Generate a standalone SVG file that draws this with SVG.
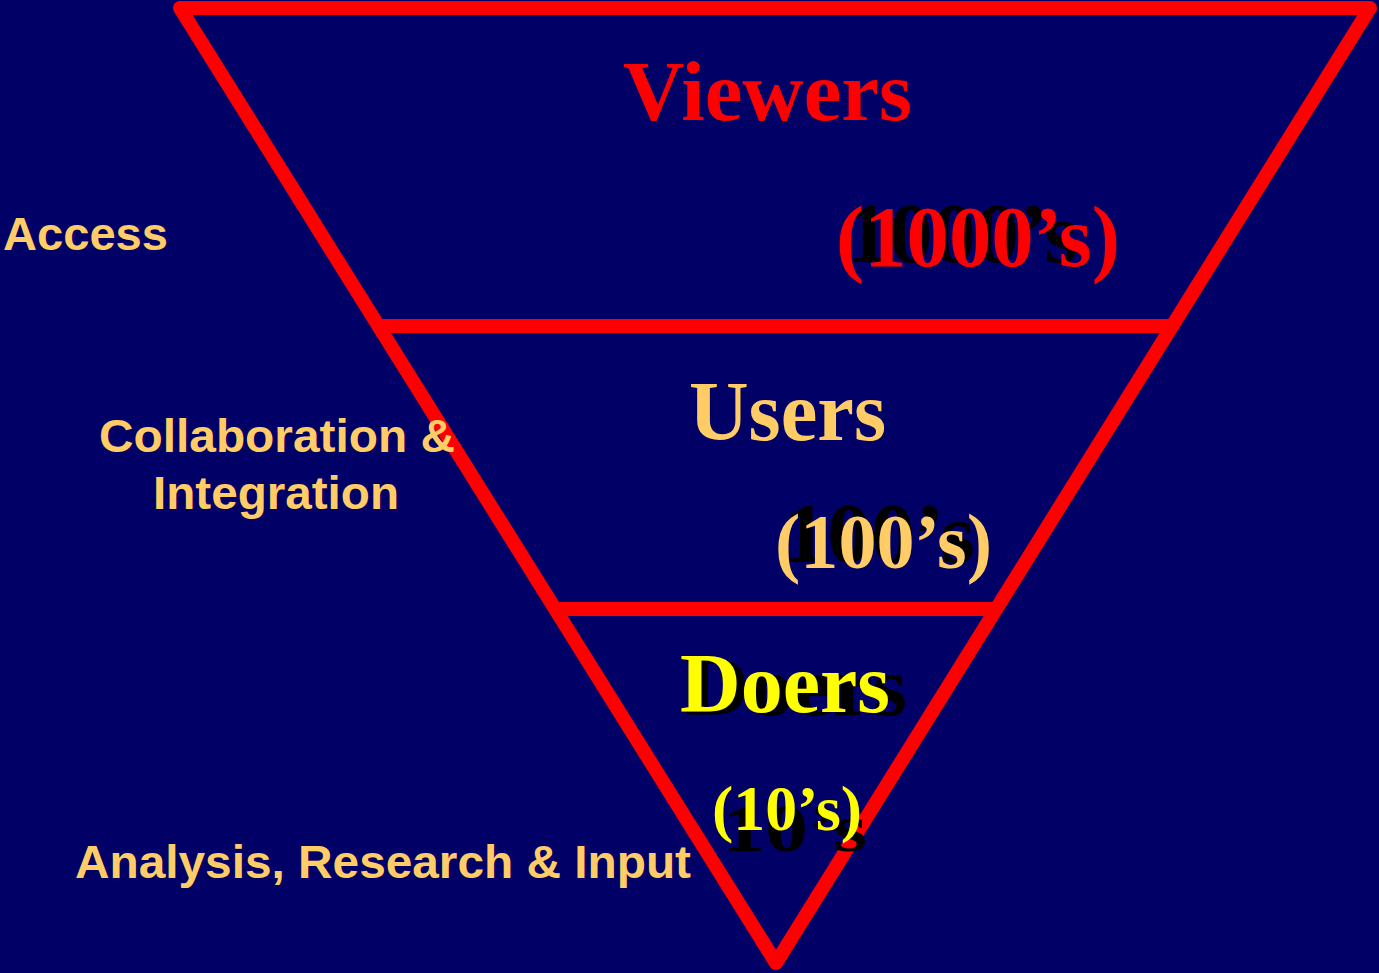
<svg xmlns="http://www.w3.org/2000/svg" width="1379" height="973" viewBox="0 0 1379 973">
<style>
.serif{font-family:"Liberation Serif","Times New Roman",serif;font-weight:bold}
.sans{font-family:"Liberation Sans",Arial,sans-serif;font-weight:bold;fill:#FFCC66;font-size:46px}
.edge{stroke:#FF0000;stroke-width:14;stroke-linecap:round;stroke-linejoin:round;fill:none}
.sh{fill:#000000}
</style>
<rect width="1379" height="973" fill="#000066"/>
<g id="connectors">
<polygon class="edge" points="180,8 1370,8 776,963"/>
<line class="edge" x1="380" y1="326" x2="1172" y2="326"/>
<line class="edge" x1="557" y1="609" x2="995" y2="609"/>
</g>
<g id="viewers">
<text class="serif" x="623" y="120" font-size="85" fill="#FF0000" textLength="289" lengthAdjust="spacingAndGlyphs">Viewers</text>
<text class="serif sh" x="846" y="262" font-size="85" textLength="232" lengthAdjust="spacingAndGlyphs">1000’s</text>
<text class="serif" x="836" y="266" font-size="86" fill="#FF0000" textLength="284" lengthAdjust="spacingAndGlyphs">(1000’s)</text>
</g>
<g id="users">
<text class="serif" x="689" y="440" font-size="84" fill="#FFCC66" textLength="197" lengthAdjust="spacingAndGlyphs">Users</text>
<text class="serif sh" x="783" y="562" font-size="84" textLength="192" lengthAdjust="spacingAndGlyphs">100’s</text>
<text class="serif" x="775" y="568" font-size="78" fill="#FFCC66" textLength="217" lengthAdjust="spacingAndGlyphs">(100’s)</text>
</g>
<g id="doers">
<text class="serif sh" x="685" y="715" font-size="84" textLength="222" lengthAdjust="spacingAndGlyphs">Doers</text>
<text class="serif" x="680" y="712" font-size="84" fill="#FFFF00" textLength="210" lengthAdjust="spacingAndGlyphs">Doers</text>
<text class="serif sh" x="722" y="851" font-size="68" textLength="145" lengthAdjust="spacingAndGlyphs">10’s</text>
<text class="serif" x="712" y="830" font-size="64" fill="#FFFF00" textLength="150" lengthAdjust="spacingAndGlyphs">(10’s)</text>
</g>
<g id="access">
<text class="sans" x="3" y="250" textLength="165" lengthAdjust="spacingAndGlyphs">Access</text>
</g>
<g id="collaboration">
<text class="sans" x="99" y="452" textLength="356" lengthAdjust="spacingAndGlyphs">Collaboration &amp;</text>
<text class="sans" x="153" y="509" textLength="246" lengthAdjust="spacingAndGlyphs">Integration</text>
</g>
<g id="analysis">
<text class="sans" x="75" y="878" textLength="616" lengthAdjust="spacingAndGlyphs">Analysis, Research &amp; Input</text>
</g>
</svg>
